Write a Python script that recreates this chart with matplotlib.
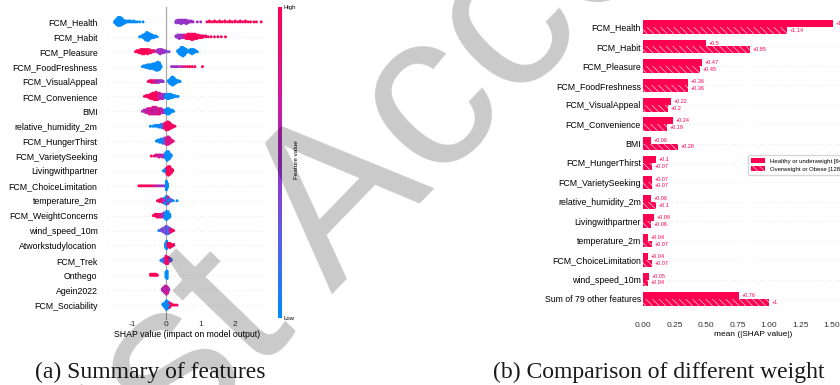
import numpy as np
import matplotlib
matplotlib.use("Agg")
import matplotlib.pyplot as plt
from matplotlib.colors import LinearSegmentedColormap, Normalize
from matplotlib.cm import ScalarMappable
from matplotlib.patches import Patch

# ---- panel (a): beeswarm rows, (shap value, number of points, feature value 0..1)
FEATURES = [
    "FCM_Health", "FCM_Habit", "FCM_Pleasure", "FCM_FoodFreshness", "FCM_VisualAppeal",
    "FCM_Convenience", "BMI", "relative_humidity_2m", "FCM_HungerThirst", "FCM_VarietySeeking",
    "Livingwithpartner", "FCM_ChoiceLimitation", "temperature_2m", "FCM_WeightConcerns",
    "wind_speed_10m", "Atworkstudylocation", "FCM_Trek", "Onthego", "Agein2022", "FCM_Sociability",
]

HEALTH = [
    (-1.50, 3, 0.0), (-1.45, 7, 0.0), (-1.40, 10, 0.0), (-1.35, 10, 0.0), (-1.30, 8, 0.0),
    (-1.25, 5, 0.0), (-1.20, 3, 0.0), (-1.15, 2, 0.0), (-1.10, 2, 0.0), (-1.05, 2, 0.0),
    (-1.00, 1, 0.0), (-0.95, 2, 0.0), (-0.90, 1, 0.0), (-0.85, 1, 0.0), (-0.78, 1, 0.0),
    (-0.68, 1, 0.0),
    (0.28, 3, 0.45), (0.33, 4, 0.45), (0.38, 4, 0.5), (0.43, 5, 0.45), (0.48, 4, 0.5),
    (0.53, 4, 0.5), (0.58, 5, 0.45), (0.63, 3, 0.5), (0.68, 2, 0.55), (0.73, 2, 0.5),
    (0.78, 1, 0.5), (0.90, 1, 0.5), (1.00, 1, 0.5),
    (1.18, 1, 0.9), (1.25, 2, 1.0), (1.32, 1, 0.9), (1.40, 2, 1.0), (1.48, 1, 1.0),
    (1.55, 2, 0.95), (1.62, 1, 1.0), (1.70, 2, 1.0), (1.78, 1, 0.9), (1.85, 2, 1.0),
    (1.92, 1, 1.0), (2.00, 2, 0.95), (2.08, 1, 1.0), (2.15, 2, 1.0), (2.22, 1, 0.9),
    (2.30, 2, 1.0), (2.38, 1, 1.0), (2.45, 1, 1.0), (2.55, 1, 1.0), (2.62, 1, 0.95),
    (2.76, 1, 1.0),
]
HABIT = [
    (-0.78, 1, 0.0), (-0.72, 2, 0.0), (-0.67, 4, 0.0), (-0.62, 7, 0.0), (-0.57, 10, 0.0),
    (-0.52, 9, 0.0), (-0.47, 6, 0.0), (-0.42, 4, 0.0), (-0.37, 3, 0.0), (-0.32, 2, 0.0),
    (-0.27, 1, 0.0),
    (0.28, 2, 0.45), (0.33, 4, 0.45), (0.38, 5, 0.5), (0.43, 4, 0.5), (0.48, 4, 0.55),
    (0.53, 4, 0.8), (0.58, 5, 0.9), (0.63, 6, 1.0), (0.68, 6, 0.95), (0.73, 7, 1.0),
    (0.78, 7, 0.9), (0.83, 6, 1.0), (0.88, 5, 0.95), (0.93, 4, 1.0), (0.98, 3, 0.9),
    (1.03, 3, 1.0), (1.08, 2, 0.9), (1.15, 2, 1.0), (1.22, 1, 0.85), (1.30, 1, 1.0),
    (1.40, 1, 0.9), (1.50, 1, 1.0), (1.60, 1, 0.95), (1.72, 1, 1.0),
]
PLEASURE = [
    (-0.90, 1, 1.0), (-0.85, 2, 1.0), (-0.80, 3, 0.95), (-0.75, 4, 1.0), (-0.70, 5, 1.0),
    (-0.65, 5, 0.95), (-0.60, 4, 1.0), (-0.55, 5, 1.0), (-0.50, 4, 0.9), (-0.45, 3, 1.0),
    (-0.40, 2, 0.85), (-0.35, 2, 0.8),
    (-0.28, 2, 0.6), (-0.23, 4, 0.5), (-0.18, 5, 0.5), (-0.13, 4, 0.55), (-0.08, 3, 0.5),
    (-0.03, 2, 0.45), (0.03, 1, 0.4), (0.08, 1, 0.35),
    (0.33, 2, 0.0), (0.38, 5, 0.0), (0.43, 8, 0.0), (0.48, 9, 0.0), (0.53, 7, 0.0),
    (0.58, 4, 0.0), (0.65, 2, 0.0), (0.70, 4, 0.0), (0.75, 5, 0.0), (0.80, 4, 0.0),
    (0.85, 2, 0.0), (0.90, 1, 0.0),
]
FOOD_FRESHNESS = [
    (-0.70, 1, 0.0), (-0.65, 2, 0.0), (-0.60, 3, 0.0), (-0.55, 4, 0.0), (-0.50, 5, 0.0),
    (-0.45, 5, 0.0), (-0.40, 6, 0.0), (-0.35, 7, 0.0), (-0.30, 9, 0.0), (-0.25, 10, 0.0),
    (-0.20, 8, 0.0), (-0.16, 3, 0.0),
    (0.15, 1, 0.45), (0.20, 1, 0.5), (0.25, 1, 0.5), (0.30, 1, 0.55), (0.35, 1, 0.5),
    (0.42, 1, 0.6), (0.48, 1, 0.75), (0.55, 1, 0.85), (0.62, 1, 0.9), (0.68, 1, 1.0),
    (0.75, 1, 0.95), (0.83, 1, 1.0), (1.05, 1, 1.0),
]
VISUAL_APPEAL = [
    (-0.53, 1, 0.9), (-0.48, 2, 0.95), (-0.43, 3, 0.9), (-0.38, 3, 0.8), (-0.33, 3, 0.75),
    (-0.28, 3, 0.6), (-0.23, 3, 0.55), (-0.18, 2, 0.5), (-0.13, 2, 0.5), (-0.09, 1, 0.45),
    (0.06, 2, 0.0), (0.10, 5, 0.0), (0.14, 8, 0.0), (0.18, 10, 0.0), (0.22, 8, 0.0),
    (0.26, 5, 0.0), (0.30, 3, 0.0), (0.35, 2, 0.0), (0.40, 1, 0.0),
]
CONVENIENCE = [
    (-0.64, 1, 1.0), (-0.58, 2, 0.9), (-0.52, 3, 1.0), (-0.46, 5, 0.95), (-0.40, 6, 1.0),
    (-0.35, 7, 0.9), (-0.30, 8, 1.0), (-0.25, 7, 0.85), (-0.20, 6, 0.7), (-0.15, 5, 0.6),
    (-0.10, 5, 0.5), (-0.05, 4, 0.45),
    (-0.02, 3, 0.0), (0.03, 5, 0.0), (0.08, 5, 0.0), (0.13, 4, 0.0), (0.18, 3, 0.0),
    (0.23, 2, 0.0), (0.28, 1, 0.0), (0.34, 1, 0.0),
]
BMI = [
    (-0.70, 1, 0.6), (-0.65, 2, 0.55), (-0.60, 3, 0.7), (-0.55, 4, 0.6), (-0.50, 5, 0.85),
    (-0.45, 5, 0.6), (-0.40, 6, 0.9), (-0.35, 6, 0.55), (-0.30, 6, 0.8), (-0.25, 5, 0.6),
    (-0.20, 5, 0.9), (-0.15, 4, 0.55), (-0.10, 3, 0.7), (-0.05, 3, 0.5),
    (-0.02, 3, 0.0), (0.02, 5, 0.0), (0.07, 5, 0.0), (0.12, 3, 0.0), (0.17, 2, 0.0),
    (0.21, 1, 0.0),
]
HUMIDITY = [
    (-0.47, 1, 0.0), (-0.40, 1, 0.0), (-0.34, 2, 0.0), (-0.28, 2, 0.0), (-0.22, 3, 0.1),
    (-0.16, 4, 0.0), (-0.11, 5, 0.2),
    (-0.06, 6, 0.8), (-0.01, 9, 1.0), (0.04, 10, 0.9), (0.09, 8, 1.0), (0.14, 5, 0.85),
    (0.19, 3, 1.0), (0.25, 1, 0.9),
]
HUNGER_THIRST = [
    (-0.29, 1, 0.0), (-0.25, 2, 0.0), (-0.20, 3, 0.0), (-0.15, 4, 0.0), (-0.10, 5, 0.1),
    (-0.05, 6, 0.3),
    (0.00, 7, 0.75), (0.05, 8, 0.85), (0.10, 6, 0.7), (0.15, 3, 0.9), (0.20, 1, 0.8),
]
VARIETY_SEEKING = [
    (-0.44, 1, 1.0), (-0.36, 1, 0.9), (-0.31, 2, 0.8), (-0.26, 2, 0.7), (-0.21, 3, 0.75),
    (-0.16, 2, 0.6), (-0.11, 3, 0.55), (-0.06, 3, 0.5),
    (-0.02, 6, 0.0), (0.02, 9, 0.0), (0.06, 8, 0.0), (0.10, 5, 0.0), (0.14, 2, 0.0),
]
LIVING_WITH_PARTNER = [
    (-0.09, 1, 0.0), (-0.05, 2, 0.0), (-0.02, 4, 0.0),
    (0.02, 7, 1.0), (0.06, 9, 0.95), (0.10, 8, 1.0), (0.14, 5, 0.9), (0.18, 2, 1.0),
]
CHOICE_LIMITATION = [
    (-0.80, 1, 1.0), (-0.75, 1, 1.0), (-0.70, 1, 0.95), (-0.65, 1, 1.0), (-0.60, 1, 0.9),
    (-0.55, 1, 1.0), (-0.50, 1, 0.9), (-0.45, 1, 0.95), (-0.40, 1, 0.85), (-0.35, 1, 0.8),
    (-0.30, 1, 0.7), (-0.25, 1, 0.6), (-0.20, 1, 0.55), (-0.15, 1, 0.5), (-0.10, 1, 0.5),
    (-0.05, 1, 0.45),
    (0.00, 12, 0.0), (0.03, 6, 0.0),
]
TEMPERATURE = [
    (-0.26, 1, 1.0), (-0.20, 3, 0.95), (-0.15, 4, 0.9), (-0.10, 5, 0.8), (-0.05, 4, 0.6),
    (-0.05, 3, 0.0), (0.00, 5, 0.5), (0.00, 5, 0.0), (0.05, 5, 0.0), (0.05, 3, 0.8),
    (0.10, 4, 0.1), (0.15, 2, 0.3), (0.20, 1, 0.0), (0.31, 1, 0.0),
]
WEIGHT_CONCERNS = [
    (-0.38, 1, 1.0), (-0.33, 2, 1.0), (-0.28, 3, 0.9), (-0.23, 3, 0.95), (-0.18, 3, 0.8),
    (-0.13, 3, 0.7), (-0.08, 4, 0.6),
    (-0.04, 5, 0.0), (0.00, 7, 0.0), (0.05, 6, 0.0), (0.10, 3, 0.0),
]
WIND_SPEED = [
    (-0.22, 1, 0.0), (-0.16, 2, 0.3), (-0.10, 4, 0.5), (-0.05, 6, 0.2), (0.00, 8, 0.45),
    (0.05, 7, 0.1), (0.10, 5, 0.6), (0.15, 3, 0.9), (0.21, 1, 1.0),
]
AT_WORK = [
    (-0.02, 5, 0.0), (0.01, 8, 0.0), (0.05, 4, 1.0), (0.10, 5, 0.95), (0.15, 3, 1.0),
    (0.21, 2, 0.9),
]
TREK = [
    (-0.16, 1, 0.0), (-0.11, 3, 0.1), (-0.06, 5, 0.3), (-0.01, 8, 0.9), (0.04, 7, 1.0),
    (0.09, 4, 0.6), (0.14, 2, 0.2),
]
ON_THE_GO = [
    (-0.46, 2, 1.0), (-0.42, 2, 1.0), (-0.38, 2, 1.0), (-0.34, 2, 0.95), (-0.30, 2, 1.0),
    (-0.26, 1, 0.9),
    (-0.01, 6, 0.0), (0.02, 8, 0.0),
]
AGE = [
    (-0.12, 2, 0.6), (-0.08, 4, 0.55), (-0.04, 6, 0.7), (0.00, 7, 0.6), (0.04, 5, 0.8),
    (0.07, 2, 0.5),
]
SOCIABILITY = [
    (-0.10, 2, 0.0), (-0.05, 5, 0.0), (0.00, 9, 0.0), (0.05, 7, 0.0), (0.10, 3, 0.0),
    (0.10, 2, 0.9), (0.15, 2, 1.0), (0.20, 1, 0.95), (0.25, 1, 1.0), (0.31, 1, 0.9),
]

ROWS = [HEALTH, HABIT, PLEASURE, FOOD_FRESHNESS, VISUAL_APPEAL, CONVENIENCE, BMI, HUMIDITY,
        HUNGER_THIRST, VARIETY_SEEKING, LIVING_WITH_PARTNER, CHOICE_LIMITATION, TEMPERATURE,
        WEIGHT_CONCERNS, WIND_SPEED, AT_WORK, TREK, ON_THE_GO, AGE, SOCIABILITY]

# ---- panel (b): mean |SHAP| per weight group
BAR_FEATURES = [
    "FCM_Health", "FCM_Habit", "FCM_Pleasure", "FCM_FoodFreshness", "FCM_VisualAppeal",
    "FCM_Convenience", "BMI", "FCM_HungerThirst", "FCM_VarietySeeking", "relative_humidity_2m",
    "Livingwithpartner", "temperature_2m", "FCM_ChoiceLimitation", "wind_speed_10m",
    "Sum of 79 other features",
]
HEALTHY = [1.51, 0.5, 0.47, 0.36, 0.22, 0.24, 0.06, 0.1, 0.07, 0.06, 0.09, 0.04, 0.04, 0.05, 0.76]
OVERWEIGHT = [1.14, 0.85, 0.45, 0.36, 0.2, 0.19, 0.28, 0.07, 0.07, 0.1, 0.06, 0.07, 0.07, 0.04, 1.0]
GROUP_LABELS = ["Healthy or underweight [64]", "Overweight or Obese [128]"]
BAR_TICKS = [0.0, 0.25, 0.5, 0.75, 1.0, 1.25, 1.5]

RED = "#ff0051"
SHAP_CMAP = LinearSegmentedColormap.from_list(
    "shap_red_blue", ["#008bfb", "#5a5fe6", "#9b2fc6", "#d8168f", "#ff0052"])

W, H = 840, 385
SANS = ["Liberation Sans", "DejaVu Sans"]
SERIF = ["Liberation Serif", "DejaVu Serif"]


def fx(px):
    return px / W


def fy(px):
    return 1 - px / H


def swarm_offsets(values):
    # stack points that share a value, like shap's beeswarm layout
    offs = np.zeros(len(values))
    seen = {}
    for i, v in enumerate(values):
        k = seen.get(v, 0)
        seen[v] = k + 1
        offs[i] = np.ceil(k / 2) * (1 if k % 2 else -1) if k else 0
    top = np.max(np.abs(offs)) + 1
    return offs * 0.9 * 0.4 / top


def plot_beeswarm(fig):
    ax = fig.add_axes([fx(108), fy(320), fx(266 - 108), 313 / H])
    n = len(FEATURES)
    for i, row in enumerate(ROWS):
        ypos = n - 1 - i
        vals, cols = [], []
        for v, cnt, c in row:
            vals += [round(v, 3)] * cnt
            cols += [c] * cnt
        offs = swarm_offsets(vals)
        ax.scatter(vals, ypos + offs, c=cols, cmap=SHAP_CMAP, vmin=0, vmax=1,
                   s=4.5, linewidths=0, zorder=3)
        ax.axhline(ypos, color="#cccccc", lw=0.5, dashes=(1, 5), zorder=-1)

    ax.axvline(0, color="#aaaaaa", lw=0.9, zorder=1)
    ax.set_xlim(-1.70, 2.90)
    ax.set_ylim(-1, n)
    ax.set_yticks(range(n))
    ax.set_yticklabels(FEATURES[::-1], fontsize=6.3, family=SANS)
    ax.set_xticks([-1, 0, 1, 2])
    ax.set_xticklabels(["-1", "0", "1", "2"], fontsize=6, family=SANS, color="#333333")
    ax.tick_params(length=0)
    ax.tick_params(axis="y", pad=7.5)
    ax.tick_params(axis="x", pad=1)
    ax.set_xlabel("SHAP value (impact on model output)", fontsize=6.3, family=SANS, labelpad=1.5)
    for s in ax.spines.values():
        s.set_visible(False)

    # colorbar
    cax = fig.add_axes([fx(278), fy(318), fx(3.5), 311 / H])
    cb = fig.colorbar(ScalarMappable(norm=Normalize(0, 1), cmap=SHAP_CMAP), cax=cax)
    cb.outline.set_visible(False)
    cb.set_ticks([])
    fig.text(fx(283), fy(7.5), "High", fontsize=4.3, family=SANS, va="center", ha="left")
    fig.text(fx(283), fy(319), "Low", fontsize=4.3, family=SANS, va="center", ha="left")
    fig.text(fx(296.5), fy(160), "Feature value", fontsize=4.6, family=SANS,
             rotation=90, va="center", ha="center")


def fmt_value(v):
    return "+" + f"{v:.2f}".rstrip("0").rstrip(".")


def plot_bars(fig):
    ax = fig.add_axes([fx(643), fy(318), 1.75 * 126 / W, 310 / H])
    n = len(BAR_FEATURES)
    y = np.arange(n)[::-1]
    h = 0.35
    ax.barh(y + h / 2, HEALTHY, h, color=RED, edgecolor=(1, 1, 1, 0.8), lw=0,
            label=GROUP_LABELS[0])
    ax.barh(y - h / 2, OVERWEIGHT, h, color=RED, edgecolor=(1, 1, 1, 0.8), lw=0,
            hatch="\\" * 5, label=GROUP_LABELS[1])
    for yy, a, b in zip(y, HEALTHY, OVERWEIGHT):
        ax.annotate(fmt_value(a), (a, yy + h / 2), xytext=(2, 0), textcoords="offset points",
                    va="center", ha="left", fontsize=4, color=RED, family=SANS)
        ax.annotate(fmt_value(b), (b, yy - h / 2), xytext=(2, 0), textcoords="offset points",
                    va="center", ha="left", fontsize=4, color=RED, family=SANS)
        ax.axhline(yy, color="#cccccc", lw=0.5, dashes=(1, 5), zorder=-1)

    ax.set_xlim(0, 1.75)
    ax.set_ylim(-0.98, n - 0.02)
    ax.set_yticks(y)
    ax.set_yticklabels(BAR_FEATURES, fontsize=6.3, family=SANS)
    ax.set_xticks(BAR_TICKS)
    ax.set_xticklabels([f"{t:.2f}" for t in BAR_TICKS], fontsize=6, family=SANS, color="#333333")
    ax.tick_params(length=0)
    ax.tick_params(axis="y", pad=1.5)
    ax.tick_params(axis="x", pad=3)
    ax.set_xlabel("mean (|SHAP value|)", fontsize=6, family=SANS, labelpad=1.5)
    for s in ax.spines.values():
        s.set_visible(False)

    handles = [Patch(facecolor=RED, edgecolor=(1, 1, 1, 0.8), lw=0),
               Patch(facecolor=RED, edgecolor=(1, 1, 1, 0.8), lw=0, hatch="\\" * 5)]
    fig.legend(handles, GROUP_LABELS, loc="upper left", bbox_to_anchor=(fx(745), fy(152)),
               prop={"family": SANS, "size": 4.3}, frameon=True, borderpad=0.5,
               handlelength=2.4, handleheight=0.9, labelspacing=0.5, edgecolor="#cccccc")


def main():
    plt.rcParams["hatch.linewidth"] = 0.5
    fig = plt.figure(figsize=(W / 100, H / 100), dpi=100)

    plot_beeswarm(fig)
    plot_bars(fig)

    # sub-figure captions
    fig.text(fx(35), fy(378), "(a) Summary of features", fontsize=17, family=SERIF,
             ha="left", va="baseline", color="#1a1a1a")
    fig.text(fx(493), fy(378), "(b) Comparison of different weight", fontsize=17, family=SERIF,
             ha="left", va="baseline", color="#1a1a1a")

    # diagonal watermark laid over the figure
    fig.text(fx(15), fy(623), "Just Accepted", fontsize=160, family=SANS, color="black",
             alpha=0.21, rotation=46, rotation_mode="anchor", ha="left", va="baseline", zorder=10)

    fig.savefig("out.png", dpi=100)
    plt.close(fig)


if __name__ == "__main__":
    main()
